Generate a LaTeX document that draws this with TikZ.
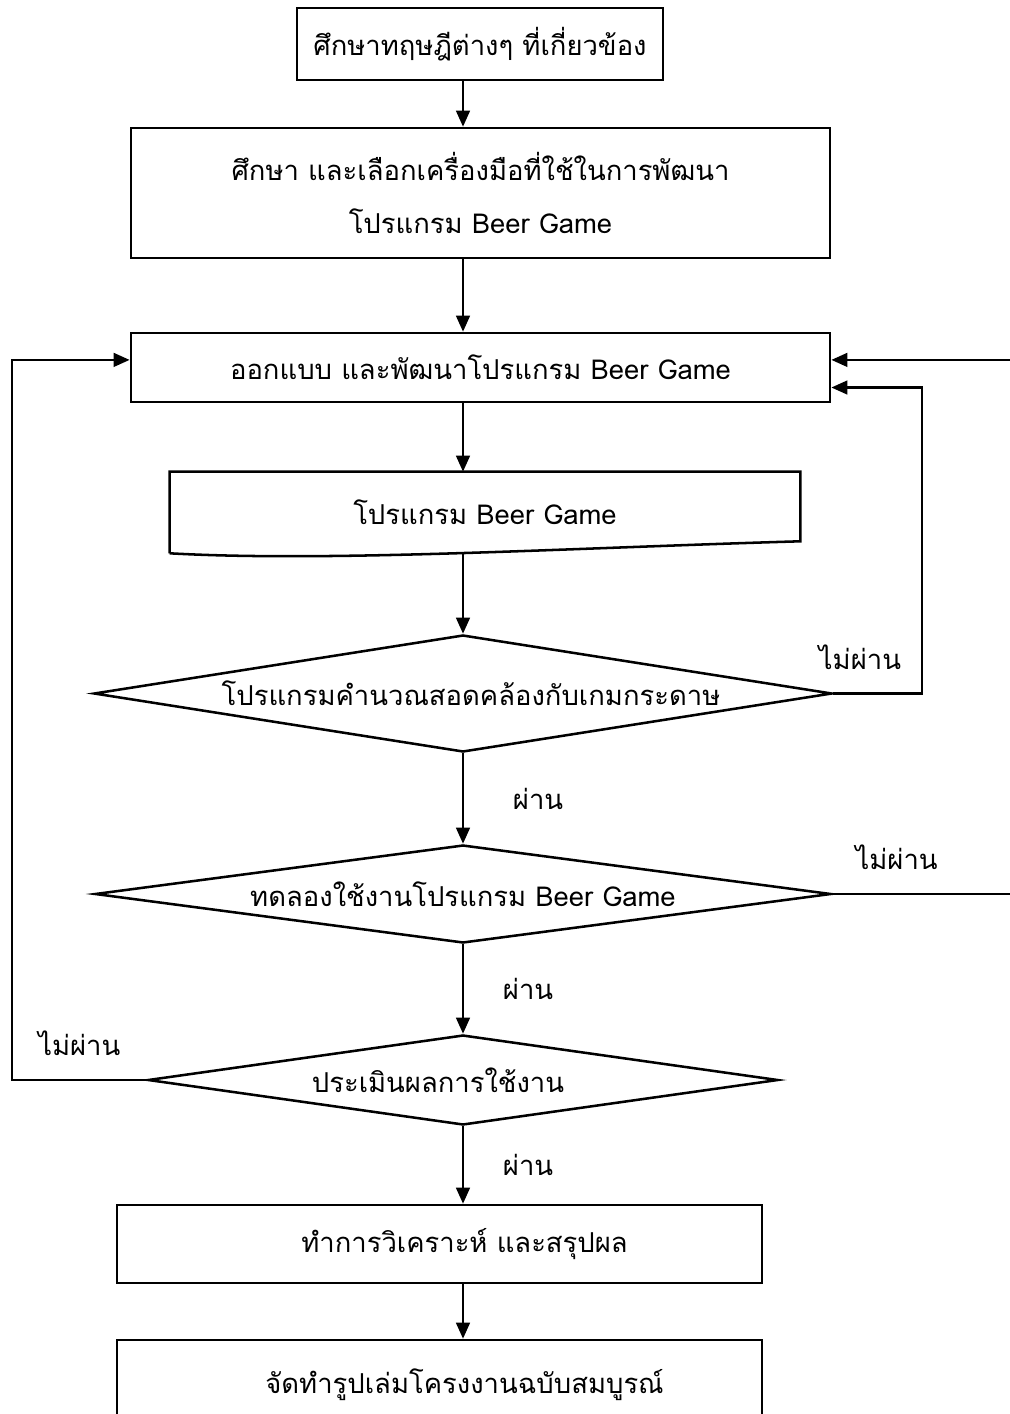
\documentclass[tikz,border=0pt]{standalone}
\usepackage{fontspec}
\newfontfamily\thaifont[Script=Thai]{Loma}
\usetikzlibrary{arrows.meta}
\usetikzlibrary{shapes}

\tikzset{
	every node/.style={font=\thaifont\fontsize{19.5}{38}\selectfont},
	box/.style={draw, line width=1.8pt, rectangle, inner sep=0pt, align=center},
	dia/.style={draw, line width=1.8pt, diamond, inner sep=0pt},
	arr/.style={line width=1.8pt, -{Triangle[length=4mm, width=3.4mm]}},
	lnk/.style={line width=1.8pt}
}

\begin{document}
\begin{tikzpicture}[x=0.025cm, y=-0.025cm]
	\useasboundingbox (0,0) rectangle (1009,1414);
	\coordinate (ax) at (463,0);
	\coordinate (lft) at (12,0);
	\coordinate (rgt) at (922,0);
	\coordinate (edge) at (1016,0);

	\node[box, minimum width=9.15cm, minimum height=1.8cm] (study) at (480,44) {ศึกษาทฤษฎีต่างๆ ที่เกี่ยวข้อง};
	\node[box, minimum width=17.475cm, minimum height=3.25cm] (tools) at (480.5,193) {ศึกษา และเลือกเครื่องมือที่ใช้ในการพัฒนา\\โปรแกรม Beer Game};
	\node[box, minimum width=17.475cm, minimum height=1.725cm] (design) at (480.5,367.5) {ออกแบบ และพัฒนาโปรแกรม Beer Game};
	\node[inner sep=0pt, minimum width=15.75cm, minimum height=2.025cm] (prog) at (485,512.5) {โปรแกรม Beer Game};
	\draw[lnk] (prog.south west) -- (prog.north west) -- (prog.north east) -- ([yshift=.3cm]prog.south east)
		.. controls +(-240,7) and +(160,9) .. (prog.south west);
	\node[dia, minimum width=18.45cm, minimum height=2.925cm] (calc) at (463,693.5) {\makebox[0pt]{\hspace{.4cm}โปรแกรมคำนวณสอดคล้องกับเกมกระดาษ}};
	\node[dia, minimum width=18.4cm, minimum height=2.45cm] (test) at (463,894) {\makebox[0pt]{ทดลองใช้งานโปรแกรม Beer Game}};
	\node[dia, minimum width=15.75cm, minimum height=2.25cm] (eval) at (463,1080) {\makebox[0pt]{ประเมินผลการใช้งาน\hspace{1.25cm}}};
	\node[box, minimum width=16.125cm, minimum height=1.95cm] (anal) at (439.5,1244) {\hspace{1.25cm}ทำการวิเคราะห์ และสรุปผล};
	\node[box, minimum width=16.125cm, minimum height=2.25cm] (book) at (439.5,1385) {\hspace{1.25cm}จัดทำรูปเล่มโครงงานฉบับสมบูรณ์};

	\draw[arr] (study.south -| ax) -- (tools.north -| ax);
	\draw[arr] (tools.south -| ax) -- (design.north -| ax);
	\draw[arr] (design.south -| ax) -- (prog.north -| ax);
	\draw[arr] (prog.south -| ax) -- (calc.north);
	\draw[arr] (calc.south) -- (test.north) node[pos=.5, right=1.1cm] {ผ่าน};
	\draw[arr] (test.south) -- (eval.north) node[pos=.5, right=.85cm] {ผ่าน};
	\draw[arr] (eval.south) -- (anal.north -| ax) node[pos=.5, right=.85cm] {ผ่าน};
	\draw[arr] (anal.south -| ax) -- (book.north -| ax);

	% loops back to design
	\draw[arr] (eval.west) -- (eval.west -| lft) node[pos=.5, above=.45cm] {ไม่ผ่าน} |- ([yshift=.19cm]design.west);
	\draw[arr] (calc.east) -- (calc.east -| rgt) node[pos=.3, above=.45cm] {ไม่ผ่าน} |- ([yshift=-.5cm]design.east);
	\draw[arr] (test.east) -- (test.east -| edge) node[pos=.35, above=.45cm] {ไม่ผ่าน} |- ([yshift=.19cm]design.east);
\end{tikzpicture}
\end{document}
